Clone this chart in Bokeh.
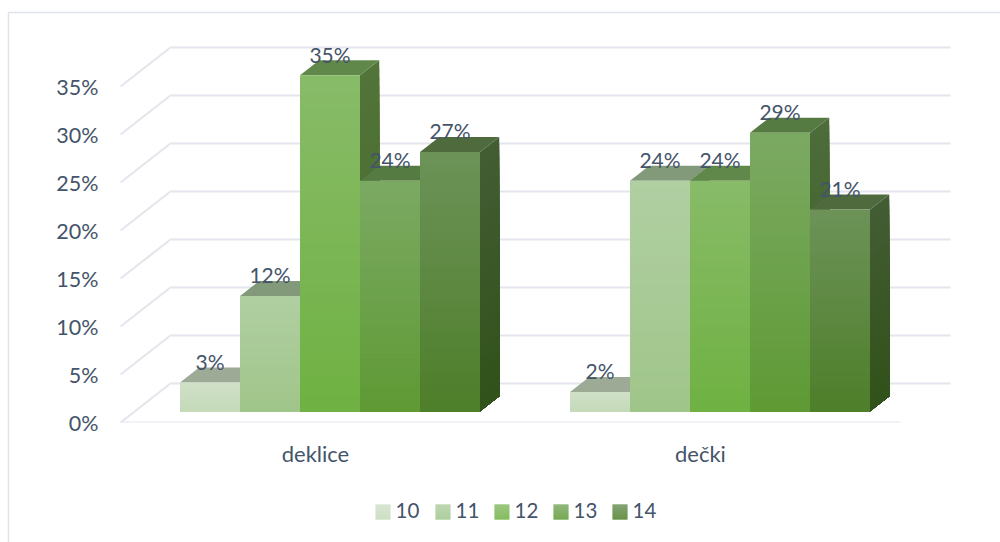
from bokeh.embed import file_html
from bokeh.models import FixedTicker, PrintfTickFormatter, Range1d
from bokeh.core.properties import value
from bokeh.plotting import figure
from bokeh.resources import INLINE

# Share of respondents per age, by group
categories = ["deklice", "dečki"]
ages = ["10", "11", "12", "13", "14"]
deklice = [3, 12, 35, 24, 27]
decki = [2, 24, 24, 29, 21]
percent_ticks = [0, 5, 10, 15, 20, 25, 30, 35]

FONT = "Lato"
TEXT = "#44546A"
GRID = "#E3E6ED"

# Shaded faces of each age's column: (top colour, bottom colour)
front_faces = [("#D0E0C8", "#C4DAB8"), ("#B0CFA2", "#A0C58A"), ("#88BB68", "#6FB142"),
               ("#7BA962", "#5F9A35"), ("#6C9258", "#4E7F2A")]
side_faces = [("#7E9072", "#76906A"), ("#6E8A62", "#627F4C"), ("#527439", "#44682A"),
              ("#4C6C3A", "#3C5E22"), ("#435D34", "#31521A")]
top_faces = ["#9DAA95", "#82997A", "#60884A", "#557A42", "#4F6B3E"]

PX_PER_UNIT = 390.0      # horizontal size of one category
PX_PER_PCT = 9.6         # vertical size of one percentage point
FRAME_LEFT, FRAME_RIGHT, FRAME_BOTTOM = 105, 1000, 422
ORIGIN_X = 120           # where the plot floor starts on the front edge

DEPTH_DX = 50 / PX_PER_UNIT
DEPTH_DY = 39 / PX_PER_PCT
BAR_W = 60 / PX_PER_UNIT
GAP = 45 / PX_PER_UNIT
DEPTH_NEAR, DEPTH_FAR = 0.29, 0.675
BANDS = 40


def px_x(px):
    return (px - ORIGIN_X) / PX_PER_UNIT


def px_y(py):
    return (FRAME_BOTTOM - py) / PX_PER_PCT


def project(x, pct, depth):
    return x + depth * DEPTH_DX, pct + depth * DEPTH_DY


def mix(c1, c2, t):
    a = [int(c1[i:i + 2], 16) for i in (1, 3, 5)]
    b = [int(c2[i:i + 2], 16) for i in (1, 3, 5)]
    return "#%02x%02x%02x" % tuple(round(u + (v - u) * t) for u, v in zip(a, b))


p = figure(width=1000, height=542, toolbar_location=None, output_backend="svg",
           x_range=Range1d(px_x(FRAME_LEFT), px_x(FRAME_RIGHT)),
           y_range=Range1d(0, FRAME_BOTTOM / PX_PER_PCT),
           min_border_left=FRAME_LEFT, min_border_right=0, min_border_top=0,
           min_border_bottom=542 - FRAME_BOTTOM, outline_line_color=None,
           background_fill_color="white", border_fill_color="white")
p.grid.visible = False

# Value axis
p.yaxis.ticker = FixedTicker(ticks=percent_ticks)
p.yaxis.formatter = PrintfTickFormatter(format="%d%%")
p.yaxis.major_label_text_font = FONT
p.yaxis.major_label_text_font_size = "21.5px"
p.yaxis.major_label_text_color = TEXT
p.yaxis.major_label_standoff = 1
p.yaxis.axis_line_color = None
p.yaxis.major_tick_line_color = None
p.yaxis.minor_tick_line_color = None

# Category axis
p.xaxis.ticker = FixedTicker(ticks=[0.5, 1.487])
p.xaxis.major_label_overrides = {0.5: categories[0], 1.487: categories[1]}
p.xaxis.major_label_text_font = FONT
p.xaxis.major_label_text_font_size = "22px"
p.xaxis.major_label_text_color = TEXT
p.xaxis.major_label_standoff = 11
p.xaxis.axis_line_color = None
p.xaxis.major_tick_line_color = None
p.xaxis.minor_tick_line_color = None

# Back wall and side wall of the plot box
for t in percent_ticks:
    x0, y0 = project(0, t, 0)
    x1, y1 = project(0, t, 1)
    x2, y2 = project(len(categories), t, 1)
    p.line([x0, x1, x2], [y0, y1, y2], line_color=GRID, line_width=2.2)
fx0, fy0 = project(0, 0, 0)
fx1, fy1 = project(len(categories), 0, 0)
p.line([fx0, fx1], [fy0, fy1], line_color=GRID, line_width=2.2)


def shaded(xs_bottom, ys_bottom, xs_top, ys_top, top_color, bottom_color):
    """Paint a vertical face as nested bands, from the full height down to the base."""
    xs, ys, colors = [], [], []
    for k in range(BANDS):
        t = k / (BANDS - 1)
        f = 1 - k / BANDS
        xs.append(xs_bottom + xs_top[::-1])
        ys.append(ys_bottom + [yb + (yt - yb) * f for yb, yt in zip(ys_bottom, ys_top)][::-1])
        colors.append(mix(top_color, bottom_color, t))
    return dict(xs=xs, ys=ys, color=colors)


labels_x, labels_y, labels_t = [], [], []
for g, series in enumerate([deklice, decki]):
    for i, v in enumerate(series):
        left = g + GAP + i * BAR_W
        right = left + BAR_W
        # front-plane corners
        xl, y_base = project(left, 0, DEPTH_NEAR)
        xr, _ = project(right, 0, DEPTH_NEAR)
        _, y_top = project(left, v, DEPTH_NEAR)
        # rear corners
        xl2, y_base2 = project(left, 0, DEPTH_FAR)
        xr2, _ = project(right, 0, DEPTH_FAR)
        _, y_top2 = project(left, v, DEPTH_FAR)

        # right-hand side
        d = shaded([xr, xr2], [y_base, y_base2], [xr, xr2], [y_top, y_top2],
                   side_faces[i][0], side_faces[i][1])
        p.patches(d["xs"], d["ys"], fill_color=d["color"], line_color=None)
        # lid
        p.patch([xl, xr, xr2, xl2], [y_top, y_top, y_top2, y_top2],
                fill_color=top_faces[i], line_color=None)
        # front
        d = shaded([xl, xr], [y_base, y_base], [xl, xr], [y_top, y_top],
                   front_faces[i][0], front_faces[i][1])
        p.patches(d["xs"], d["ys"], fill_color=d["color"], line_color=None)

        labels_x.append((xl + xr) / 2)
        labels_y.append(y_top + 21 / PX_PER_PCT)
        labels_t.append(f"{v}%")

p.text(labels_x, labels_y, text=labels_t, text_font=value(FONT), text_font_size="21px",
       text_color=TEXT, text_align="center", text_baseline="middle")

# Legend row below the plot area; swatches are stacked one-pixel rows so they
# stay visible outside the plotting frame
swatch_left = [375, 435, 494, 553, 612]
SWATCH = 15
for i, age in enumerate(ages):
    sx0, sx1 = px_x(swatch_left[i]), px_x(swatch_left[i] + SWATCH)
    for row in range(SWATCH):
        sy = px_y(504 + row + 0.5)
        p.line([sx0, sx1], [sy, sy], line_width=1.2, level="annotation",
               line_color=mix(front_faces[i][0], front_faces[i][1], row / (SWATCH - 1)))
    p.text([px_x(swatch_left[i] + 20)], [px_y(510)], text=[age], text_font=value(FONT),
           text_font_size="20.5px", text_color=TEXT, text_align="left",
           text_baseline="middle", level="annotation")

# Thin chart border along the left and top edges
p.line([px_x(8), px_x(8), px_x(1000)], [px_y(542), px_y(12), px_y(12)],
       line_color="#DFE4EA", line_width=1.5, level="annotation")

open("out.html", "w").write(file_html(p, INLINE))
